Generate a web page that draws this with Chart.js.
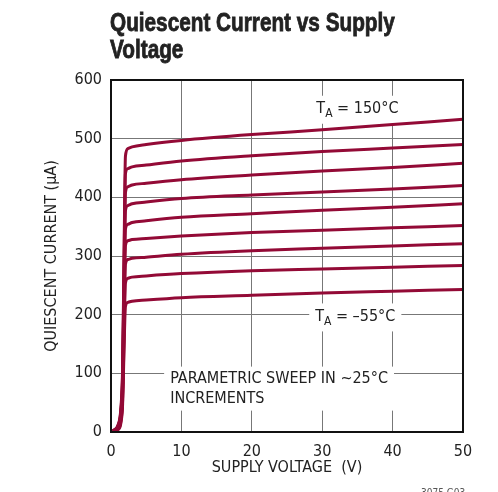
<!DOCTYPE html>
<html>
<head>
<meta charset="utf-8">
<script src="https://cdn.jsdelivr.net/npm/chart.js@4.4.1/dist/chart.umd.min.js"></script>
<style>
  html, body { margin: 0; padding: 0; background: #fff; }
  #wrap { width: 498px; height: 492px; position: relative; }
</style>
</head>
<body>
<div id="wrap"><canvas id="qc" width="498" height="492"></canvas></div>
<script>
// supply voltage sweep points (V)
const volts = [0.3, 1.0, 1.4, 1.65, 1.85, 2.05, 2.4, 3, 5, 10, 20, 30, 40, 50];

// quiescent current (uA), one row per temperature, 150C down to -55C
const curves = [
  [2, 12, 40, 110, 300, 470, 483, 486, 490, 497, 507, 515, 524, 533],
  [2, 11, 36, 100, 280, 440, 449, 452, 455, 462, 471, 478, 484, 490],
  [2, 10, 33, 92, 260, 408, 418, 421, 424, 430, 438, 445, 451, 458],
  [2, 9, 30, 85, 240, 377, 386, 389, 392, 398, 404, 409, 414, 420],
  [1, 8, 27, 78, 220, 346, 354, 357, 360, 366, 372, 378, 383, 389],
  [1, 7, 24, 70, 200, 318, 326, 328, 330, 334, 340, 344, 348, 352],
  [1, 6, 21, 62, 180, 286, 294, 296, 298, 303, 309, 313, 317, 321],
  [1, 5, 18, 55, 160, 254, 262, 264, 266, 270, 275, 278, 281, 284],
  [1, 4, 15, 48, 140, 214, 221, 223, 225, 229, 233, 237, 240, 243]
];

const xTicks = [0, 10, 20, 30, 40, 50];
const yTicks = [0, 100, 200, 300, 400, 500, 600];

const lineColor = '#930a36';
const narrow = '"Liberation Sans Narrow", "DejaVu Sans Condensed", "Liberation Sans", sans-serif';
const sans = '"Liberation Sans", Arial, sans-serif';
const squeeze = 0.83; // horizontal squeeze to get a condensed look

const datasets = curves.map(vals => ({
  data: vals.map((v, i) => ({ x: volts[i], y: v })),
  borderColor: lineColor,
  borderWidth: 3,
  pointRadius: 0,
  fill: false,
  cubicInterpolationMode: 'monotone'
}));

// text boxes placed in data units, with white backing that cuts the grid
const notes = [
  { x: 35, y: 551, parts: [['T', 16, 0], ['A', 12, 5], [' = 150°C', 16, 0]] },
  { x: 34.7, y: 197, parts: [['T', 16, 0], ['A', 12, 5], [' = –55°C', 16, 0]] }
];
const sweepText = ['PARAMETRIC SWEEP IN ~25°C', 'INCREMENTS'];

function textWidth(ctx, parts) {
  let w = 0;
  parts.forEach(p => {
    ctx.font = p[1] + 'px ' + narrow;
    w += ctx.measureText(p[0]).width;
  });
  return w;
}

const decor = {
  id: 'decor',
  beforeDatasetsDraw(chart) {
    const ctx = chart.ctx;
    const xs = chart.scales.x, ys = chart.scales.y;
    ctx.save();
    ctx.textBaseline = 'middle';
    // temperature labels
    notes.forEach(n => {
      const w = textWidth(ctx, n.parts);
      const cx = xs.getPixelForValue(n.x), cy = ys.getPixelForValue(n.y);
      ctx.fillStyle = '#fff';
      ctx.fillRect(cx - w / 2 - 6, cy - 13, w + 12, 28);
      let px = cx - w / 2;
      n.parts.forEach(p => {
        ctx.font = p[1] + 'px ' + narrow;
        ctx.fillStyle = '#222';
        ctx.textAlign = 'left';
        ctx.fillText(p[0], px, cy + p[2]);
        px += ctx.measureText(p[0]).width;
      });
    });
    // sweep note
    ctx.font = '16px ' + narrow;
    const sx = xs.getPixelForValue(8.4), sy = ys.getPixelForValue(91);
    const w = ctx.measureText(sweepText[0]).width;
    ctx.fillStyle = '#fff';
    ctx.fillRect(sx - 6, sy - 12, w + 12, 44);
    ctx.fillStyle = '#222';
    ctx.textAlign = 'left';
    ctx.fillText(sweepText[0], sx, sy);
    ctx.fillText(sweepText[1], sx, sy + 20);
    ctx.restore();
  },
  afterDraw(chart) {
    const ctx = chart.ctx;
    const a = chart.chartArea;
    ctx.save();
    // frame around plot
    ctx.strokeStyle = '#111';
    ctx.lineWidth = 2;
    ctx.strokeRect(a.left, a.top, a.right - a.left, a.bottom - a.top);
    // axis titles
    ctx.fillStyle = '#222';
    ctx.font = '16px ' + narrow;
    ctx.textAlign = 'center';
    ctx.textBaseline = 'middle';
    ctx.fillText('SUPPLY VOLTAGE  (V)', (a.left + a.right) / 2, 468);
    ctx.save();
    ctx.translate(52, (a.top + a.bottom) / 2);
    ctx.rotate(-Math.PI / 2);
    ctx.fillText('QUIESCENT CURRENT (μA)', 0, 0);
    ctx.restore();
    // heading, stroked a little for a heavier weight
    ctx.textAlign = 'left';
    ctx.textBaseline = 'alphabetic';
    ctx.font = 'bold 25px ' + sans;
    ctx.strokeStyle = '#222';
    ctx.lineWidth = 0.8;
    ctx.save();
    ctx.translate(110, 0);
    ctx.scale(squeeze, 1);
    ['Quiescent Current vs Supply', 'Voltage'].forEach((t, i) => {
      ctx.fillText(t, 0, 31 + i * 27);
      ctx.strokeText(t, 0, 31 + i * 27);
    });
    ctx.restore();
    // figure code
    ctx.font = '10px ' + narrow;
    ctx.fillStyle = '#555';
    ctx.fillText('3075 G03', 421, 496);
    ctx.restore();
  }
};

new Chart(document.getElementById('qc'), {
  type: 'line',
  data: { datasets },
  options: {
    responsive: false,
    animation: false,
    layout: { padding: { top: 80, right: 35, bottom: 0, left: 0 } },
    plugins: { legend: { display: false }, tooltip: { enabled: false } },
    scales: {
      x: {
        type: 'linear',
        min: 0, max: 50,
        afterBuildTicks(s) { s.ticks = xTicks.map(v => ({ value: v })); },
        afterFit(s) { s.height = 60; },
        grid: { color: '#777', lineWidth: 1, drawTicks: false },
        border: { display: false },
        ticks: { color: '#222', padding: 10, font: { family: narrow, size: 16 } }
      },
      y: {
        type: 'linear',
        min: 0, max: 600,
        afterBuildTicks(s) { s.ticks = yTicks.map(v => ({ value: v })); },
        afterFit(s) { s.width = 111; },
        grid: { color: '#777', lineWidth: 1, drawTicks: false },
        border: { display: false },
        ticks: { color: '#222', padding: 9, font: { family: narrow, size: 16 } }
      }
    }
  },
  plugins: [decor]
});
</script>
</body>
</html>
